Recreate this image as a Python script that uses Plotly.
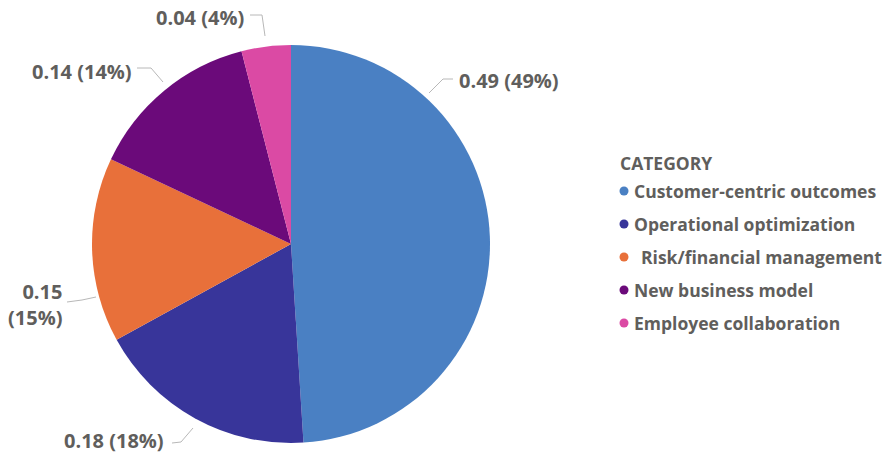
import plotly.graph_objects as go

# ---- data ----
categories = ["Customer-centric outcomes", "Operational optimization",
              "Risk/financial management", "New business model",
              "Employee collaboration"]
values = [0.49, 0.18, 0.15, 0.14, 0.04]
legend_title = "CATEGORY"

# ---- style / layout ----
W, H = 887, 455
colors = ["#4A80C3", "#38359A", "#E8703A", "#6B0A7A", "#DB4AA4"]
TXT = "#605E5C"
LINE = "#B8B8B8"
FONT = "Open Sans"

def px(x):
    return x / W

def py(y):
    return 1 - y / H

cx, cy, r = 291, 244, 199

fig = go.Figure()
fig.add_trace(go.Pie(
    labels=categories, values=values, sort=False, direction="clockwise",
    rotation=0, marker=dict(colors=colors, line=dict(width=0)),
    textinfo="none", hoverinfo="label+value+percent", showlegend=False,
    domain=dict(x=[px(cx - r), px(cx + r)], y=[py(cy + r), py(cy - r)]),
))

def fmt(v, br=False):
    sep = "<br>" if br else " "
    return f"{v:.2f}{sep}({v * 100:.0f}%)"

# label layout: (x, y, xanchor, line break) in pixels
label_pos = [
    (457, 80, "left", False),
    (166, 440, "right", False),
    (64, 304, "right", True),
    (134, 71, "right", False),
    (246, 18, "right", False),
]
leaders = [
    [(429, 93), (443, 79), (453, 79)],
    [(172, 443), (181, 442), (193, 428)],
    [(67, 302), (82, 300), (96, 297)],
    [(137, 68), (151, 68), (163, 82)],
    [(250, 15), (262, 15), (265, 36)],
]

annotations = []
shapes = []
for v, (lx, ly, anc, br), pts in zip(values, label_pos, leaders):
    annotations.append(dict(
        x=px(lx), y=py(ly), xref="paper", yref="paper", xanchor=anc,
        yanchor="middle", showarrow=False, text=fmt(v, br), align="right",
        font=dict(family=FONT, size=20, color=TXT, weight="bold"),
    ))
    path = "M " + " L ".join(f"{px(x)} {py(y)}" for x, y in pts)
    shapes.append(dict(type="path", path=path, xref="paper", yref="paper",
                       line=dict(color=LINE, width=1)))

# manual legend
lx0, ly0, step, dot_x, dot_r, text_x = 618, 163, 33, 624, 4.5, 632
annotations.append(dict(
    x=px(lx0), y=py(ly0), xref="paper", yref="paper", xanchor="left",
    yanchor="middle", showarrow=False, text=legend_title,
    font=dict(family=FONT, size=17.5, color=TXT, weight="bold"),
))
for i, (name, col) in enumerate(zip(categories, colors)):
    yy = ly0 + step * (i + 1) - 5
    shapes.append(dict(type="circle", xref="paper", yref="paper",
                       x0=px(dot_x - dot_r), x1=px(dot_x + dot_r),
                       y0=py(yy + dot_r), y1=py(yy - dot_r),
                       fillcolor=col, line=dict(width=0)))
    tx = text_x + (7 if i == 2 else 0)
    annotations.append(dict(
        x=px(tx), y=py(yy), xref="paper", yref="paper", xanchor="left",
        yanchor="middle", showarrow=False, text=name,
        font=dict(family=FONT, size=17.5, color=TXT, weight="bold"),
    ))

fig.update_layout(
    width=W, height=H, margin=dict(l=0, r=0, t=0, b=0),
    paper_bgcolor="white", plot_bgcolor="white",
    annotations=annotations, shapes=shapes, showlegend=False,
)
fig.write_html("out.html")
